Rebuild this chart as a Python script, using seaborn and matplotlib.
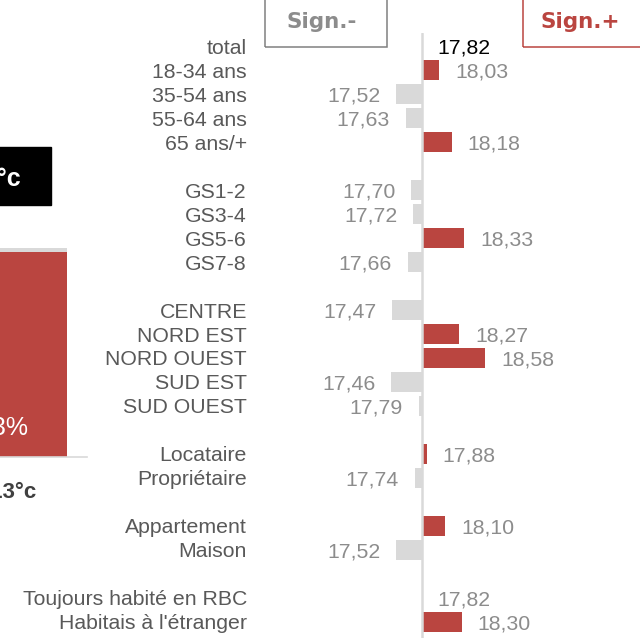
import matplotlib.pyplot as plt
import matplotlib.transforms as mtransforms
from matplotlib.patches import Rectangle
import seaborn as sns
import pandas as pd
import numpy as np

# data ("" = blank spacer row between groups)
categories = ["total", "18-34 ans", "35-54 ans", "55-64 ans", "65 ans/+", "",
              "GS1-2", "GS3-4", "GS5-6", "GS7-8", "",
              "CENTRE", "NORD EST", "NORD OUEST", "SUD EST", "SUD OUEST", "",
              "Locataire", "Propriétaire", "",
              "Appartement", "Maison", "",
              "Toujours habité en RBC", "Habitais à l'étranger"]
temps = [17.82, 18.03, 17.52, 17.63, 18.18, None,
         17.70, 17.72, 18.33, 17.66, None,
         17.47, 18.27, 18.58, 17.46, 17.79, None,
         17.88, 17.74, None,
         18.10, 17.52, None,
         17.82, 18.30]
total = 17.82

# cropped neighbouring panel (left)
side_cat = ["> 13°c"]
side_share = [93]
side_max = [95]
side_title = "17,82°c"

RED = "#BA4540"
GREY = "#D9D9D9"

sns.set_style("white")
plt.rcParams["font.family"] = ["Liberation Sans", "DejaVu Sans"]

# unique names for spacer rows
order = []
k = 0
for c in categories:
    if c == "":
        k += 1
        order.append(" " * k)
    else:
        order.append(c)

df = pd.DataFrame({"label": order, "temp": temps})
df["temp"] = df["temp"].astype(float)
df["diff"] = df["temp"] - total
df["sign"] = np.where(df["diff"] >= 0, "+", "-")
bars = df.dropna()

W, H = 640, 638
fig = plt.figure(figsize=(6.4, 6.38), dpi=100)

# main diverging chart
ax = fig.add_axes([260 / W, 0, 380 / W, 605 / H])
sns.barplot(data=bars, x="diff", y="label", order=order, hue="sign",
            palette={"+": RED, "-": GREY}, dodge=False, width=0.83,
            saturation=1, orient="h", errorbar=None, legend=False,
            linewidth=0, ax=ax)
ax.set_xlim(-161.5 / 84, 218.5 / 84)
ax.set_ylim(24.667, -0.542)
ax.axvline(0, color=GREY, lw=1.8, zorder=3)
for s in ax.spines.values():
    s.set_visible(False)
ax.set_xticks([])
ax.set_xlabel("")
ax.set_ylabel("")
ax.tick_params(axis="y", length=0, pad=9.4, labelsize=15.3, labelcolor="#595959")
for t in ax.get_yticklabels():
    t.set_va("center_baseline")

for i, row in df.iterrows():
    if np.isnan(row["temp"]):
        continue
    d = row["diff"]
    txt = f"{row['temp']:.2f}".replace(".", ",")
    col = "black" if row["label"] == "total" else "#8C8C8C"
    if d >= 0:
        ax.annotate(txt, (d, i), xytext=(11.5, 0), textcoords="offset points",
                    ha="left", va="center_baseline", fontsize=15.3, color=col)
    else:
        ax.annotate(txt, (d, i), xytext=(-11.5, 0), textcoords="offset points",
                    ha="right", va="center_baseline", fontsize=15.3, color=col)

# Sign boxes
fig.patches.append(Rectangle((265 / W, (H - 47) / H), 121.5 / W, 60 / H,
                             transform=fig.transFigure, fill=False,
                             edgecolor="#808080", lw=1.1))
fig.patches.append(Rectangle((523 / W, (H - 47) / H), 140 / W, 60 / H,
                             transform=fig.transFigure, fill=False,
                             edgecolor=RED, lw=1.1))
fig.text(322 / W, (H - 20.5) / H, "Sign.-", ha="center", va="center_baseline",
         fontsize=15.5, fontweight="bold", color="#8C8C8C", family="DejaVu Sans")
fig.text(580 / W, (H - 20.5) / H, "Sign.+", ha="center", va="center_baseline",
         fontsize=15.5, fontweight="bold", color=RED, family="DejaVu Sans")

# cropped left panel
fig.patches.append(Rectangle((-40 / W, (H - 205) / H), 91 / W, 58 / H,
                             transform=fig.transFigure, color="black"))
fig.text(21 / W, (H - 176) / H, side_title, ha="right", va="center_baseline",
         fontsize=18, fontweight="bold", color="white")

ax2 = fig.add_axes([-79 / W, (H - 457) / H, 166 / W, 209 / H])
sns.barplot(x=side_cat, y=side_max, color=GREY, width=0.76, saturation=1,
            linewidth=0, ax=ax2)
sns.barplot(x=side_cat, y=side_share, color=RED, width=0.76, saturation=1,
            linewidth=0, ax=ax2)
ax2.set_xlim(-0.5, 0.5)
ax2.set_ylim(0, side_max[0])
for name, s in ax2.spines.items():
    s.set_visible(name == "bottom")
ax2.spines["bottom"].set_color(GREY)
ax2.spines["bottom"].set_linewidth(1.2)
ax2.set_yticks([])
ax2.set_xticks([])
ax2.set_xticks([0.5], minor=True)
ax2.tick_params(axis="x", which="minor", length=6, width=1.2, color=GREY,
                direction="out")
ax2.text(0, 14.1, f"{side_share[0]}%", ha="center", va="center_baseline",
         fontsize=18, color="white")
ax2.text(0, -0.158, side_cat[0], ha="center", va="center_baseline",
         fontsize=16, fontweight="bold", color="#404040",
         transform=mtransforms.blended_transform_factory(ax2.transData, ax2.transAxes))

fig.savefig("out.png", dpi=100)
